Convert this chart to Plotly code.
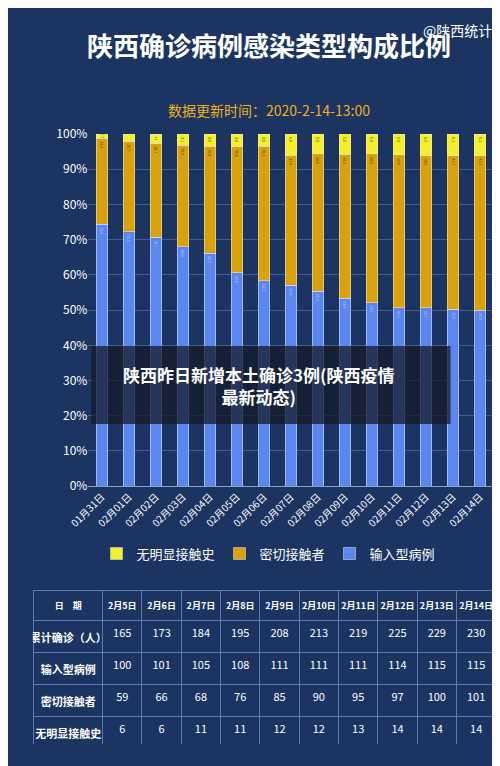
import plotly.graph_objects as go

dates = ["01月31日","02月01日","02月02日","02月03日","02月04日","02月05日","02月06日","02月07日",
         "02月08日","02月09日","02月10日","02月11日","02月12日","02月13日","02月14日"]
imported = [74.4,72.3,70.7,68.0,66.2,60.6,58.3,57.0,55.4,53.4,52.1,50.7,50.7,50.2,50.0]
close = [24.4,25.7,26.7,28.9,30.3,35.8,38.2,37.0,39.0,40.9,42.3,43.4,43.1,43.7,43.9]
unknown = [1.2,2.0,2.6,3.1,3.5,3.6,3.5,6.0,5.6,5.8,5.6,5.9,6.2,6.1,6.1]

t_dates = ["2月5日","2月6日","2月7日","2月8日","2月9日","2月10日","2月11日","2月12日","2月13日","2月14日"]
t_total = [165,173,184,195,208,213,219,225,229,230]
t_imp = [100,101,105,108,111,111,111,114,115,115]
t_close = [59,66,68,76,85,90,95,97,100,101]
t_unk = [6,6,11,11,12,12,13,14,14,14]

BG = "#1b3461"
FONT = "Noto Sans CJK SC"
fig = go.Figure()
common = dict(width=0.42, textposition="inside", textangle=90, insidetextanchor="end",
              texttemplate="%{y:.1f}", constraintext="inside")
fig.add_bar(x=dates, y=imported, name="输入型病例", marker_color="#5b86f0",
            textfont=dict(color="#c8d4f0", size=10, family=FONT), **common)
fig.add_bar(x=dates, y=close, name="密切接触者", marker_color="#d9a20b",
            textfont=dict(color="#3a3000", size=10, family=FONT), **common)
fig.add_bar(x=dates, y=unknown, name="无明显接触史", marker_color="#f5ef2a",
            textfont=dict(color="#3a3000", size=10, family=FONT), **common)

hdr = ["<b>日　期</b>"] + ["<b>%s</b>" % d for d in t_dates]
rows = [["<b>累计确诊（人）</b>","<b>输入型病例</b>","<b>密切接触者</b>","<b>无明显接触史</b>"]]
for i in range(len(t_dates)):
    rows.append([t_total[i], t_imp[i], t_close[i], t_unk[i]])
fig.add_trace(go.Table(
    domain=dict(x=[0.01, 0.975], y=[0.03, 0.235]),
    columnwidth=[1.75] + [1]*10,
    header=dict(values=hdr, fill_color=BG, line_color="#5f7ab0", height=30,
                font=dict(color="white", size=9, family=FONT), align="center"),
    cells=dict(values=rows, fill_color=BG, line_color="#5f7ab0", height=30,
               font=dict(color="white", size=11, family=FONT), align="center")))

fig.update_layout(
    width=500, height=766, barmode="stack", paper_bgcolor=BG, plot_bgcolor=BG,
    margin=dict(l=0, r=0, t=0, b=0), font=dict(family=FONT, color="white"),
    bargap=0.5, showlegend=True,
    legend=dict(orientation="h", x=0.5, xanchor="center", y=0.285, yanchor="middle",
                traceorder="reversed", font=dict(size=13, color="white"),
                bgcolor="rgba(0,0,0,0)"),
    xaxis=dict(domain=[0.124, 0.97], anchor="y", tickangle=-45, showgrid=False,
               tickfont=dict(size=10, color="white"), linecolor="#8aa0c8"),
    yaxis=dict(domain=[0.375, 0.845], range=[0, 100], dtick=10, ticksuffix="%",
               gridcolor="rgba(150,170,210,0.35)", tickfont=dict(size=12, color="white"),
               zeroline=False),
    annotations=[
        dict(text="<b>陕西确诊病例感染类型构成比例</b>", x=0.5, y=0.965, xref="paper", yref="paper",
             yanchor="middle", showarrow=False, font=dict(size=26, color="white")),
        dict(text="@陕西统计", x=0.97, y=1.0, xref="paper", yref="paper", xanchor="right",
             yanchor="top", showarrow=False, font=dict(size=14, color="white")),
        dict(text="数据更新时间：2020-2-14-13:00", x=0.5, y=0.893, xref="paper", yref="paper",
             showarrow=False, font=dict(size=14, color="#f0b020")),
        dict(text="<b>陕西昨日新增本土确诊3例(陕西疫情<br>最新动态)</b>", x=0.48, y=0.51,
             xref="paper", yref="paper", showarrow=False, align="center",
             font=dict(size=17, color="white")),
    ],
    shapes=[dict(type="rect", xref="paper", yref="paper", x0=0.13, x1=0.88, y0=0.458, y1=0.562,
                 fillcolor="rgba(20,25,40,0.75)", line_width=0, layer="above")],
)
fig.write_html("out.html")
